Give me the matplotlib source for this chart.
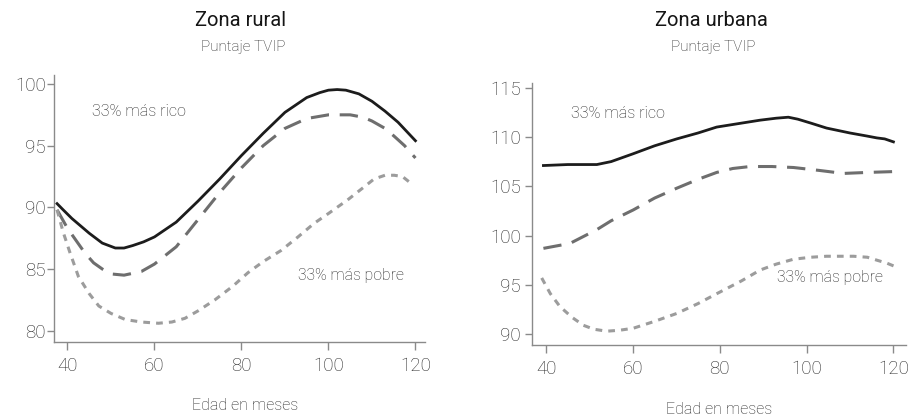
import matplotlib
matplotlib.use("Agg")
import matplotlib.pyplot as plt

plt.rcParams['font.family'] = ['Roboto', 'DejaVu Sans']

# Zona rural - puntaje TVIP por edad en meses
rural_rico_x = [37.6, 39, 41, 43, 45, 48, 51, 53, 55, 57.5, 60, 62.5, 65, 70, 75, 80, 85, 90, 95, 98, 100, 102, 104, 107, 110, 113, 116, 120]
rural_rico_y = [90.3, 89.8, 89.1, 88.5, 87.9, 87.1, 86.7, 86.7, 86.9, 87.2, 87.6, 88.2, 88.8, 90.5, 92.3, 94.2, 96.0, 97.7, 98.9, 99.3, 99.5, 99.55, 99.5, 99.2, 98.6, 97.8, 96.9, 95.4]

rural_medio_x = [37.6, 40, 42, 44, 46, 48, 50, 53, 57, 60, 65, 70, 75, 80, 85, 90, 95, 100, 105, 108, 110, 113, 115, 117.5, 120]
rural_medio_y = [89.8, 88.3, 87.3, 86.3, 85.5, 85.0, 84.6, 84.5, 84.8, 85.4, 86.8, 89.0, 91.2, 93.2, 95.0, 96.4, 97.2, 97.5, 97.5, 97.3, 97.0, 96.4, 95.8, 95.0, 94.0]

rural_pobre_x = [37.6, 39, 40.5, 42.5, 45, 47.2, 50, 53.3, 57, 60.9, 64, 67, 70, 73.9, 78, 81.5, 85, 89.1, 93, 96.7, 100, 104.4, 108, 110.5, 113, 115.1, 117, 119.5]
rural_pobre_y = [89.8, 88.0, 86.4, 84.4, 83.0, 82.0, 81.4, 80.9, 80.7, 80.6, 80.7, 81.0, 81.6, 82.5, 83.6, 84.7, 85.6, 86.5, 87.6, 88.7, 89.5, 90.6, 91.6, 92.3, 92.6, 92.6, 92.5, 91.8]

# Zona urbana
urb_rico_x = [39.4, 45, 51.7, 55, 60.1, 65, 70.1, 75, 79.3, 85, 89.3, 93, 95.8, 98, 101, 104.6, 110, 113.8, 116.2, 118, 120]
urb_rico_y = [107.1, 107.2, 107.2, 107.5, 108.3, 109.1, 109.8, 110.4, 111.0, 111.4, 111.7, 111.9, 112.0, 111.8, 111.4, 110.9, 110.4, 110.1, 109.9, 109.8, 109.5]

urb_medio_x = [39.4, 45.5, 51.7, 55, 60.1, 65, 70.1, 75, 79.3, 83, 87, 92, 97, 103, 108.5, 114, 121]
urb_medio_y = [98.7, 99.2, 100.6, 101.5, 102.6, 103.8, 104.8, 105.7, 106.4, 106.8, 107.0, 107.0, 106.9, 106.6, 106.3, 106.4, 106.5]

urb_pobre_x = [39, 41, 43.2, 46, 48.6, 51, 54, 57, 60.1, 65, 70.1, 75, 79.3, 85, 89.3, 93, 97, 101, 104.6, 108, 110.8, 114, 116.2, 118.5, 120.7]
urb_pobre_y = [95.7, 94.1, 92.8, 91.7, 90.9, 90.5, 90.3, 90.4, 90.6, 91.3, 92.1, 93.1, 94.1, 95.4, 96.5, 97.1, 97.6, 97.8, 97.9, 97.9, 97.9, 97.8, 97.5, 97.2, 96.8]

x_ticks = [40, 60, 80, 100, 120]
rural_yticks = [80, 85, 90, 95, 100]
urb_yticks = [90, 95, 100, 105, 110, 115]

col_rico = '#1c1c1c'
col_medio = '#6e6e6e'
col_pobre = '#9c9c9c'
spine_col = '#8a8a8a'
text_col = '#262626'

fig = plt.figure(figsize=(9.08, 4.2), dpi=100)
ax1 = fig.add_axes([54 / 908, 1 - 342 / 420, 371 / 908, 267 / 420])
ax2 = fig.add_axes([531.7 / 908, 1 - 345 / 420, 374.3 / 908, 262.3 / 420])


def style(ax, ypad):
    for s in ['top', 'right']:
        ax.spines[s].set_visible(False)
    for s in ['left', 'bottom']:
        ax.spines[s].set_color(spine_col)
        ax.spines[s].set_linewidth(1.0)
    ax.tick_params(axis='y', length=5, width=1, color=spine_col, labelsize=13.5,
                   labelcolor=text_col, pad=ypad)
    ax.tick_params(axis='x', length=5.5, width=1, color=spine_col, labelsize=13.5,
                   labelcolor=text_col, pad=5)
    ax.set_xticks(x_ticks)
    for lab in ax.get_xticklabels() + ax.get_yticklabels():
        lab.set_fontweight('light')


# rural
ax1.plot(rural_rico_x, rural_rico_y, color=col_rico, lw=2.0)
ax1.plot(rural_medio_x, rural_medio_y, color=col_medio, lw=2.2, dashes=(6, 3.5))
ax1.plot(rural_pobre_x, rural_pobre_y, color=col_pobre, lw=2.2, dashes=(2.2, 2.0))
ax1.set_xlim(36.9, 122.2)
ax1.set_ylim(79.08, 100.73)
ax1.set_yticks(rural_yticks)
style(ax1, 1)
ax1.text(45.6, 97.8, '33% más rico', fontsize=11.6, color=text_col, va='center', fontweight='light')
ax1.text(93, 84.5, '33% más pobre', fontsize=11.3, color=text_col, va='center', fontweight='light')

# urbana
ax2.plot(urb_rico_x, urb_rico_y, color=col_rico, lw=2.0)
ax2.plot(urb_medio_x, urb_medio_y, color=col_medio, lw=2.2, dashes=(6, 3.5))
ax2.plot(urb_pobre_x, urb_pobre_y, color=col_pobre, lw=2.2, dashes=(2.2, 2.0))
ax2.set_xlim(36.7, 122.9)
ax2.set_ylim(88.9, 115.5)
ax2.set_yticks(urb_yticks)
style(ax2, 3)
ax2.text(45.8, 112.4, '33% más rico', fontsize=11.6, color=text_col, va='center', fontweight='light')
ax2.text(93.2, 95.7, '33% más pobre', fontsize=11.3, color=text_col, va='center', fontweight='light')

# titles
fig.text(241 / 908, 1 - 21 / 420, 'Zona rural', ha='center', va='center', fontsize=14.5, color='#151515')
fig.text(243 / 908, 1 - 47 / 420, 'Puntaje TVIP', ha='center', va='center', fontsize=11,
         color=text_col, fontweight='light')
fig.text(711 / 908, 1 - 21 / 420, 'Zona urbana', ha='center', va='center', fontsize=14.5, color='#151515')
fig.text(713 / 908, 1 - 47 / 420, 'Puntaje TVIP', ha='center', va='center', fontsize=11,
         color=text_col, fontweight='light')
fig.text(245 / 908, 1 - 406 / 420, 'Edad en meses', ha='center', va='center', fontsize=11.5,
         color=text_col, fontweight='light')
fig.text(719 / 908, 1 - 410 / 420, 'Edad en meses', ha='center', va='center', fontsize=11.5,
         color=text_col, fontweight='light')

fig.savefig('out.png', dpi=100)
